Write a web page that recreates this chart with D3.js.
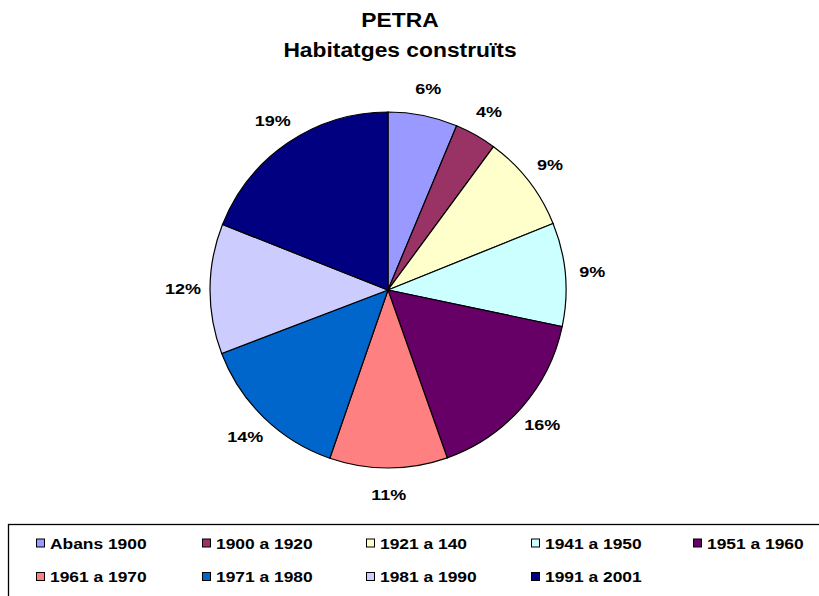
<!DOCTYPE html>
<html><head><meta charset="utf-8">
<script src="https://cdn.jsdelivr.net/npm/d3@7"></script>
<style>body{margin:0;background:#fff}svg{display:block}text{font-family:"Liberation Sans",Arial,sans-serif;font-weight:bold;fill:#000}</style>
</head><body>
<script>
const categories = ["Abans 1900","1900 a 1920","1921 a 140","1941 a 1950","1951 a 1960","1961 a 1970","1971 a 1980","1981 a 1990","1991 a 2001"];
const values = [6.3, 3.8, 8.8, 9.4, 16.3, 10.7, 13.9, 11.8, 19.0];
const colors = ["#9999FF","#993366","#FFFFCC","#CCFFFF","#660066","#FF8080","#0066CC","#CCCCFF","#000080"];
const titleLines = ["PETRA","Habitatges construïts"];

const W = 819, H = 596;
const SX = 1.2; // horizontal text stretch of the original picture
const svg = d3.select("body").append("svg").attr("width", W).attr("height", H);

svg.selectAll("text.title").data(titleLines).join("text")
  .attr("class","title")
  .attr("transform",(d,i)=>`translate(400,${27+i*30}) scale(1.17,1)`)
  .attr("text-anchor","middle").style("font-size","19.5px").text(d=>d);

const cx = 388, cy = 290, r = 178;
const pie = d3.pie().sort(null).value(d=>d)(values);
const arc = d3.arc().innerRadius(0).outerRadius(r);
const labelArc = d3.arc().innerRadius(r+27).outerRadius(r+27);
const g = svg.append("g").attr("transform",`translate(${cx},${cy})`);
g.selectAll("path").data(pie).join("path")
  .attr("d", arc).attr("fill",(d,i)=>colors[i])
  .attr("stroke","#000").attr("stroke-width",1.2);
const fmt = d3.format(".0f");
g.selectAll("text").data(pie).join("text")
  .attr("transform", d=>`translate(${labelArc.centroid(d)}) scale(${SX},1)`)
  .attr("text-anchor","middle").attr("dy","0.35em")
  .style("font-size","15px")
  .text(d=>fmt(d.data)+"%");

// legend
svg.append("rect").attr("x",8.5).attr("y",524.5).attr("width",830).attr("height",100)
  .attr("fill","#fff").attr("stroke","#000").attr("stroke-width",1.3);
const colX = [36, 202, 366, 531, 693];
const rowY = [543.5, 577];
const leg = svg.selectAll("g.leg").data(categories).join("g").attr("class","leg")
  .attr("transform",(d,i)=>`translate(${colX[i%5]},${rowY[Math.floor(i/5)]})`);
leg.append("rect").attr("x",0.5).attr("y",-4.5).attr("width",8).attr("height",8)
  .attr("fill",(d,i)=>colors[i]).attr("stroke","#000").attr("stroke-width",1);
leg.append("text").attr("transform",`translate(14,0) scale(${SX},1)`).attr("dy","0.35em")
  .style("font-size","14.5px").text(d=>d);
</script>
</body></html>
